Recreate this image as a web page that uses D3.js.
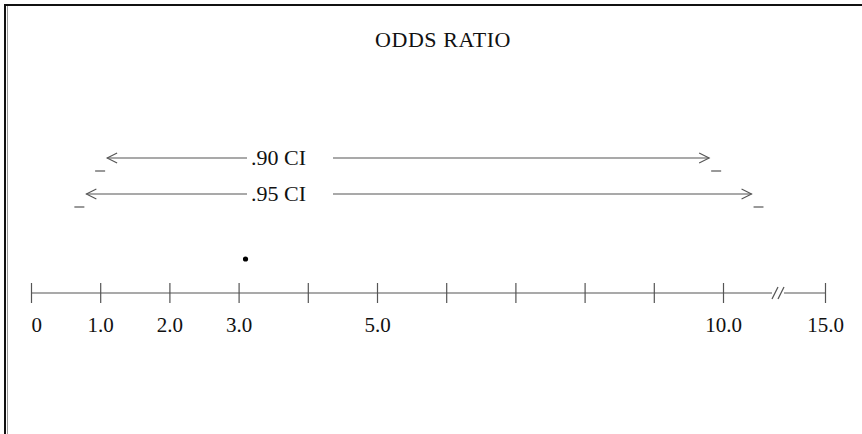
<!DOCTYPE html>
<html>
<head>
<meta charset="utf-8">
<script src="https://cdn.jsdelivr.net/npm/d3@7"></script>
<style>
  html, body { margin: 0; padding: 0; background: #fff; }
  svg { display: block; }
  text { font-family: "Liberation Serif", "Times New Roman", serif; fill: #111; }
</style>
</head>
<body>
<script>
// Odds ratio with its point estimate and two confidence intervals
const title = "ODDS RATIO";
const tickValues = [0, 1, 2, 3, 4, 5, 6, 7, 8, 9, 10, 15];
const tickLabels = ["0", "1.0", "2.0", "3.0", "", "5.0", "", "", "", "", "10.0", "15.0"];
const ciNames = [".90 CI", ".95 CI"];
const ciLower = [1.1, 0.8];
const ciUpper = [9.8, 11.4];
const pointEstimate = 3.1;

const W = 862, H = 434;
const svg = d3.select("body").append("svg").attr("width", W).attr("height", H);

// frame: heavy rule along the top and down the left side
svg.append("line").attr("x1", 4).attr("x2", W).attr("y1", 5).attr("y2", 5)
  .attr("stroke", "#111").attr("stroke-width", 2);
svg.append("line").attr("x1", 5).attr("x2", 5).attr("y1", 4).attr("y2", H)
  .attr("stroke", "#111").attr("stroke-width", 2);
svg.append("line").attr("x1", 7.5).attr("x2", 7.5).attr("y1", 6).attr("y2", H)
  .attr("stroke", "#999").attr("stroke-width", 1);

// the axis runs evenly from 0 to 10, then jumps across a break to 15
const x = d3.scaleLinear().domain([0, 10, 15]).range([31, 723, 825]);

const fontSize = 21;
const headSize = 22;
const grey = "#555";

svg.append("text").attr("x", 443).attr("y", 47).attr("text-anchor", "middle")
  .attr("font-size", headSize).attr("letter-spacing", 0.6).text(title);

// axis line with a break between 10 and 15
const axisY = 293;
const breakX = (x(10) + x(15)) / 2 + 4;
svg.append("line").attr("x1", x(0)).attr("x2", breakX - 6).attr("y1", axisY).attr("y2", axisY)
  .attr("stroke", grey).attr("stroke-width", 1.2);
svg.append("line").attr("x1", breakX + 6).attr("x2", x(15)).attr("y1", axisY).attr("y2", axisY)
  .attr("stroke", grey).attr("stroke-width", 1.2);
[-3, 3].forEach(o => {
  svg.append("line")
    .attr("x1", breakX + o - 3).attr("y1", axisY + 6)
    .attr("x2", breakX + o + 3).attr("y2", axisY - 6)
    .attr("stroke", grey).attr("stroke-width", 1.2);
});

const axis = d3.axisBottom(x).tickValues(tickValues)
  .tickFormat((d, i) => tickLabels[i]).tickSize(0).tickPadding(0);
const gAxis = svg.append("g").attr("transform", `translate(0,${axisY})`).call(axis);
gAxis.select(".domain").remove();
gAxis.selectAll(".tick line").remove();
gAxis.selectAll(".tick").append("line")
  .attr("y1", -10).attr("y2", 10).attr("stroke", grey).attr("stroke-width", 1.2);
gAxis.selectAll(".tick text")
  .attr("y", 39).attr("dy", 0)
  .attr("font-family", "Liberation Serif, Times New Roman, serif")
  .attr("font-size", fontSize).attr("fill", "#111")
  .attr("text-anchor", (d, i) => i === 0 ? "start" : "middle");

// point estimate
svg.append("circle").attr("cx", x(pointEstimate)).attr("cy", 259).attr("r", 2.6).attr("fill", "#000");

// confidence intervals drawn as labelled arrows
const rowY = [158, 194];
const labelLeft = 251, labelRight = 333;
ciNames.forEach((name, i) => {
  const y = rowY[i];
  const lo = x(ciLower[i]), hi = x(ciUpper[i]);
  const g = svg.append("g");
  g.append("line").attr("x1", lo).attr("x2", labelLeft - 4).attr("y1", y).attr("y2", y)
    .attr("stroke", grey).attr("stroke-width", 1.2);
  g.append("line").attr("x1", labelRight).attr("x2", hi).attr("y1", y).attr("y2", y)
    .attr("stroke", grey).attr("stroke-width", 1.2);
  g.append("path").attr("d", `M${lo + 10},${y - 5}L${lo},${y}L${lo + 10},${y + 5}`)
    .attr("fill", "none").attr("stroke", grey).attr("stroke-width", 1.1);
  g.append("path").attr("d", `M${hi - 10},${y - 5}L${hi},${y}L${hi - 10},${y + 5}`)
    .attr("fill", "none").attr("stroke", grey).attr("stroke-width", 1.1);
  g.append("line").attr("x1", lo - 12).attr("x2", lo - 2).attr("y1", y + 13).attr("y2", y + 13)
    .attr("stroke", grey).attr("stroke-width", 1.2);
  g.append("line").attr("x1", hi + 2).attr("x2", hi + 12).attr("y1", y + 13).attr("y2", y + 13)
    .attr("stroke", grey).attr("stroke-width", 1.2);
  g.append("text").attr("x", labelLeft).attr("y", y + 7)
    .attr("font-size", headSize).text(name);
});
</script>
</body>
</html>
